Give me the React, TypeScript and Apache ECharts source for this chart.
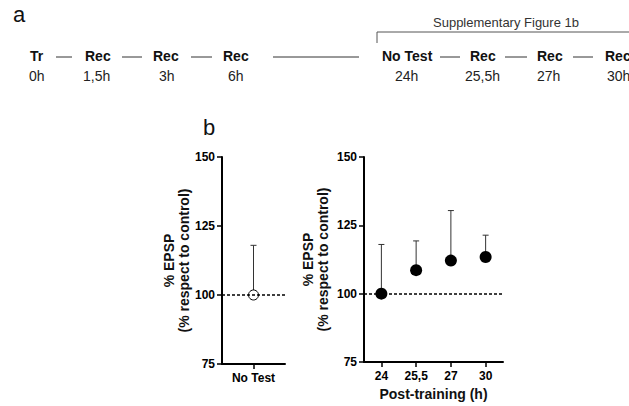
import React, { useEffect, useRef } from "react";
import * as echarts from "echarts";

// ---- data ----
const leftCategories = ["No Test"];
const leftMeans = [100];
const leftUpper = [118];

const rightCategories = ["24", "25,5", "27", "30"];
const rightMeans = [100, 108.6, 112.1, 113.4];
const rightUpper = [118, 119.3, 130.4, 121.4];

const yMin = 75;
const yMax = 150;
const yInterval = 25;
const referenceLine = 100;

const timelineEvents = ["Tr", "Rec", "Rec", "Rec", "No Test", "Rec", "Rec", "Rec"];
const timelineTimes = ["0h", "1,5h", "3h", "6h", "24h", "25,5h", "27h", "30h"];

// ---- layout (positions only) ----
const eventX = [30, 85, 153, 223, 382, 470, 537, 605];
const timeX = [29, 83, 159, 228, 395, 465, 537, 607];
const dashSegments: [number, number][] = [
  [56, 72],
  [122, 142],
  [191, 212],
  [273, 359],
  [440, 460],
  [505, 527],
  [573, 593],
];

const FONT = "'Liberation Sans', Arial, Helvetica, sans-serif";

function yAxisCfg(gridIndex: number, gap: number) {
  return {
    type: "value",
    gridIndex,
    min: yMin,
    max: yMax,
    interval: yInterval,
    name: "% EPSP\n(% respect to control)",
    nameLocation: "middle",
    nameRotate: 90,
    nameGap: gap,
    nameTextStyle: {
      fontFamily: FONT,
      fontWeight: "bold",
      fontSize: 14,
      color: "#111",
      lineHeight: 15,
      align: "center",
    },
    axisLine: { show: true, lineStyle: { color: "#000", width: 2 } },
    axisTick: { show: true, length: 5, lineStyle: { color: "#000", width: 1.5 } },
    axisLabel: {
      fontFamily: FONT,
      fontWeight: "bold",
      fontSize: 12,
      color: "#000",
      margin: 7,
    },
    splitLine: { show: false },
  };
}

function xAxisCfg(gridIndex: number, cats: string[], name: string) {
  return {
    type: "category",
    gridIndex,
    data: cats,
    name,
    nameLocation: "middle",
    nameGap: 25,
    nameTextStyle: {
      fontFamily: FONT,
      fontWeight: "bold",
      fontSize: 14,
      color: "#111",
    },
    axisLine: { show: true, onZero: false, lineStyle: { color: "#000", width: 2 } },
    axisTick: { show: true, alignWithLabel: true, length: 5, lineStyle: { color: "#000", width: 1.5 } },
    axisLabel: {
      fontFamily: FONT,
      fontWeight: "bold",
      fontSize: 12,
      color: "#000",
      margin: 8,
    },
    splitLine: { show: false },
  };
}

function errorSeries(idx: number, means: number[], upper: number[], r: number) {
  return {
    type: "custom",
    xAxisIndex: idx,
    yAxisIndex: idx,
    z: 1,
    encode: { x: 0, y: 1 },
    data: means.map((m, i) => [i, m, upper[i]]),
    renderItem: (params: any, api: any) => {
      const x = api.value(0);
      const p0 = api.coord([x, api.value(1)]);
      const p1 = api.coord([x, api.value(2)]);
      const stroke = { stroke: "#333", lineWidth: 1 };
      return {
        type: "group",
        children: [
          { type: "line", shape: { x1: p0[0], y1: p0[1] - r, x2: p1[0], y2: p1[1] }, style: stroke },
          { type: "line", shape: { x1: p1[0] - 3, y1: p1[1], x2: p1[0] + 3, y2: p1[1] }, style: stroke },
        ],
      };
    },
  };
}

function markLine100() {
  return {
    silent: true,
    symbol: "none",
    label: { show: false },
    lineStyle: { color: "#000", type: [3, 2], width: 1.5, opacity: 1 },
    data: [{ yAxis: referenceLine }],
  };
}

export default function App() {
  const ref = useRef<HTMLDivElement>(null);
  useEffect(() => {
    document.body.style.margin = "0";
    if (!ref.current) return;
    const chart = echarts.init(ref.current, null, { renderer: "svg" });

    const graphics: any[] = [];
    graphics.push({
      type: "text",
      left: 13,
      top: 3,
      style: { text: "a", fontFamily: FONT, fontSize: 22, fill: "#111" },
    });
    graphics.push({
      type: "text",
      left: 203,
      top: 116,
      style: { text: "b", fontFamily: FONT, fontSize: 22, fill: "#111" },
    });
    graphics.push({
      type: "text",
      left: 433,
      top: 16,
      style: { text: "Supplementary Figure 1b", fontFamily: FONT, fontSize: 13, fill: "#333" },
    });
    graphics.push({
      type: "polyline",
      shape: { points: [[377, 43], [377, 32], [640, 32]] },
      style: { stroke: "#555", lineWidth: 1, fill: "none" },
    });
    timelineEvents.forEach((t, i) => {
      graphics.push({
        type: "text",
        x: eventX[i],
        y: 56,
        style: {
          text: t,
          fontFamily: FONT,
          fontWeight: "bold",
          fontSize: 14,
          fill: "#111",
          textVerticalAlign: "middle",
          verticalAlign: "middle",
        },
      });
    });
    timelineTimes.forEach((t, i) => {
      graphics.push({
        type: "text",
        x: timeX[i],
        y: 76,
        style: {
          text: t,
          fontFamily: FONT,
          fontSize: 14,
          fill: "#222",
          textVerticalAlign: "middle",
          verticalAlign: "middle",
        },
      });
    });
    dashSegments.forEach(([a, b]) => {
      graphics.push({
        type: "line",
        shape: { x1: a, y1: 57, x2: b, y2: 57 },
        style: { stroke: "#333", lineWidth: 1 },
      });
    });

    chart.setOption({
      animation: false,
      backgroundColor: "#fff",
      grid: [
        { left: 222, top: 157, width: 63, height: 207 },
        { left: 364, top: 157, width: 139, height: 207 },
      ],
      xAxis: [xAxisCfg(0, leftCategories, ""), xAxisCfg(1, rightCategories, "Post-training (h)")],
      yAxis: [yAxisCfg(0, 31), yAxisCfg(1, 34)],
      graphic: graphics,
      series: [
        errorSeries(0, leftMeans, leftUpper, 5),
        {
          type: "scatter",
          xAxisIndex: 0,
          yAxisIndex: 0,
          z: 3,
          symbol: "circle",
          symbolSize: 10,
          itemStyle: { color: "rgba(0,0,0,0)", borderColor: "#000", borderWidth: 1, opacity: 1 },
          data: leftMeans.map((m, i) => [i, m]),
          markLine: markLine100(),
        },
        errorSeries(1, rightMeans, rightUpper, 0),
        {
          type: "scatter",
          xAxisIndex: 1,
          yAxisIndex: 1,
          z: 3,
          symbol: "circle",
          symbolSize: 12,
          itemStyle: { color: "#000", opacity: 1 },
          data: rightMeans.map((m, i) => [i, m]),
          markLine: markLine100(),
        },
      ],
    });
    return () => chart.dispose();
  }, []);
  return <div ref={ref} style={{ width: 629, height: 406 }} />;
}
